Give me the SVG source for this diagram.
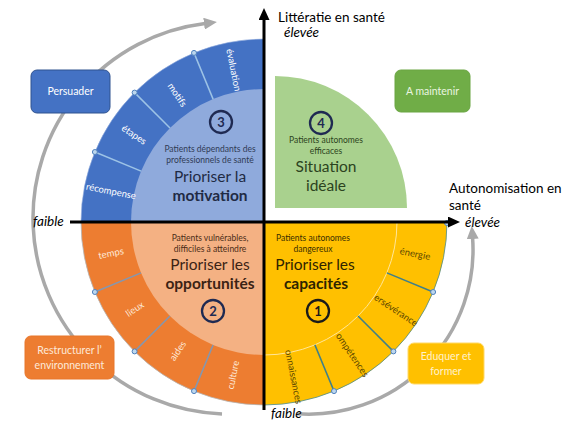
<svg xmlns="http://www.w3.org/2000/svg" width="564" height="423" viewBox="0 0 564 423">
<style>
text{font-family:Lato,"Open Sans","Liberation Sans",sans-serif}
.arc{fill:none;stroke:#a9a9a9;stroke-width:3.5}
.axis{stroke:#000;stroke-width:3;fill:none}
.rt{font-size:9.5px;text-anchor:middle}
.wb{fill:#fff}
.wo{fill:#fde9d9}
.dy{fill:#5c4700}
.sub{font-size:8.5px;text-anchor:middle}
.big{font-size:15.5px;text-anchor:middle}
.bold{font-weight:700}
.num{font-size:13px;text-anchor:middle;font-weight:700}
.nc{fill:none;stroke-width:2.3}
.dot{fill:#bdd7ee;stroke:#4f81bd;stroke-width:1}
.box{stroke-width:1}
.bt{font-size:10.5px;text-anchor:middle}
.lab{font-size:13.5px;fill:#000}
.it{font-style:italic}
</style>
<defs>
<marker id="ga" markerUnits="userSpaceOnUse" markerWidth="13" markerHeight="12" refX="1" refY="6" orient="auto"><path d="M0,0 L13,6 L0,12 z" fill="#a9a9a9"/></marker>
<marker id="ba" markerUnits="userSpaceOnUse" markerWidth="12" markerHeight="11" refX="0" refY="5.5" orient="auto"><path d="M0,0 L12,5.5 L0,11 z" fill="#000"/></marker>
</defs>

<g id="connectors">
<path id="arc-left" class="arc" d="M222,413.9 A196,196 0 0 1 205,23.5" marker-end="url(#ga)"/>
<path id="arc-right" class="arc" d="M297,413.8 A164.4,164.4 0 0 0 472.6,238" marker-end="url(#ga)"/>
</g>

<g id="q-motivation">
<path d="M264,222 L81,222 A183,183 0 0 1 264,39 Z" fill="#4472c4" stroke="#8faadc" stroke-width="0.6"/>
<path d="M264,222 L131,222 A133,133 0 0 1 264,89 Z" fill="#8faadc"/>
<g stroke="#9dc3e6" stroke-width="1.5">
<line x1="213.1" y1="99.1" x2="194" y2="52.9"/>
<line x1="170" y1="128" x2="134.6" y2="92.6"/>
<line x1="141.1" y1="171.1" x2="94.9" y2="152"/>
</g>
<circle class="dot" cx="194" cy="52.9" r="2.5"/>
<circle class="dot" cx="134.6" cy="92.6" r="2.5"/>
<circle class="dot" cx="94.9" cy="152" r="2.5"/>
<text class="rt wb" transform="translate(233.4,70) rotate(78.75)" dy="3">évaluation</text>
<text class="rt wb" transform="translate(177,95) rotate(56.25)" dy="3">motifs</text>
<text class="rt wb" transform="translate(134,135) rotate(33.75)" dy="3">étapes</text>
<text class="rt wb" transform="translate(111,191.4) rotate(11.25)" dy="3">récompense</text>
<circle class="nc" cx="221" cy="122" r="11" stroke="#1f2a52"/>
<text class="num" x="221" y="126.5" fill="#1f2a52">3</text>
<text class="sub" x="210" y="152" fill="#2f3b55">Patients dépendants des</text>
<text class="sub" x="210" y="163" fill="#2f3b55">professionnels de santé</text>
<text class="big" x="210" y="182" fill="#1f2a44">Prioriser la</text>
<text class="big bold" x="210" y="201" fill="#1f2a44">motivation</text>
</g>

<g id="q-opportunites">
<path d="M264,222 L81,222 A183,183 0 0 0 264,405 Z" fill="#ed7d31" stroke="#b4b4b4" stroke-width="0.8"/>
<path d="M264,222 L131,222 A133,133 0 0 0 264,355 Z" fill="#f4b183"/>
<g stroke="#8497b0" stroke-width="1.5">
<line x1="213.1" y1="344.9" x2="194" y2="391.1"/>
<line x1="170" y1="316" x2="134.6" y2="351.4"/>
<line x1="141.1" y1="272.9" x2="94.9" y2="292"/>
</g>
<circle class="dot" cx="194" cy="391.1" r="2.5"/>
<circle class="dot" cx="134.6" cy="351.4" r="2.5"/>
<circle class="dot" cx="94.9" cy="292" r="2.5"/>
<text class="rt wo" transform="translate(111,253.5) rotate(-11.25)" dy="3">temps</text>
<text class="rt wo" transform="translate(135,309.2) rotate(-33.75)" dy="3">lieux</text>
<text class="rt wo" transform="translate(178,351) rotate(-56.25)" dy="3">aides</text>
<text class="rt wo" transform="translate(233.4,375) rotate(-78.75)" dy="3">culture</text>
<text class="sub" x="210" y="241" fill="#4a2c17">Patients vulnérables,</text>
<text class="sub" x="210" y="252" fill="#4a2c17">difficiles à atteindre</text>
<text class="big" x="210" y="270" fill="#3b2314">Prioriser les</text>
<text class="big bold" x="210" y="289" fill="#3b2314">opportunités</text>
<circle class="nc" cx="213" cy="311" r="11" stroke="#1f2a52"/>
<text class="num" x="213" y="315.5" fill="#1f2a52">2</text>
</g>

<g id="q-capacites">
<path d="M264,222 L447,222 A183,183 0 0 1 264,405 Z" fill="#ffc000" stroke="#4a8a8a" stroke-width="0.8"/>
<path d="M397,222 A133,133 0 0 1 264,355" fill="none" stroke="#ffe699" stroke-width="1"/>
<g stroke="#3f7f8a" stroke-width="1.5">
<line x1="314.9" y1="344.9" x2="334" y2="391.1"/>
<line x1="358" y1="316" x2="393.4" y2="351.4"/>
<line x1="386.9" y1="272.9" x2="433.1" y2="292"/>
</g>
<circle class="dot" cx="334" cy="391.1" r="2.5"/>
<circle class="dot" cx="393.4" cy="351.4" r="2.5"/>
<circle class="dot" cx="433.1" cy="292" r="2.5"/>
<circle class="dot" cx="447" cy="223" r="2.5"/>
<text class="rt dy" transform="translate(415,254) rotate(11.25)" dy="3">énergie</text>
<text class="dy" font-size="9.5" transform="translate(375,296.5) rotate(33.75)" dy="3">ersévérance</text>
<text class="dy" font-size="9.5" transform="translate(338,334) rotate(56.25)" dy="3">ompétences</text>
<text class="dy" font-size="9.5" transform="translate(288,350) rotate(78.75)" dy="3">onnaissances</text>
<text class="sub" x="313" y="241" fill="#3a2e00">Patients autonomes</text>
<text class="sub" x="313" y="252" fill="#3a2e00">dangereux</text>
<text class="big" x="315" y="270" fill="#2e2400">Prioriser les</text>
<text class="big bold" x="316" y="289" fill="#2e2400">capacités</text>
<circle class="nc" cx="318" cy="311" r="11" stroke="#1a1a1a"/>
<text class="num" x="318" y="315.5" fill="#1a1a1a">1</text>
</g>

<g id="q-ideale">
<path d="M275,208 L275,76 A132,132 0 0 1 407,208 Z" fill="#a9d18e"/>
<circle class="nc" cx="321" cy="123" r="11" stroke="#1f2a52"/>
<text class="num" x="321" y="127.5" fill="#1f2a52">4</text>
<text class="sub" x="326" y="143" fill="#2c4320">Patients autonomes</text>
<text class="sub" x="326" y="154" fill="#2c4320">efficaces</text>
<text class="big" x="326" y="172" fill="#2c4320">Situation</text>
<text class="big" x="326" y="191" fill="#2c4320">idéale</text>
</g>

<g id="box-persuader">
<rect class="box" x="31" y="70" width="79" height="43" rx="6" fill="#4472c4" stroke="#2f528f"/>
<text class="bt" x="70.5" y="95" fill="#fff">Persuader</text>
</g>
<g id="box-maintenir">
<rect class="box" x="395" y="70" width="75" height="42" rx="6" fill="#70ad47" stroke="#6aa542"/>
<text class="bt" x="432.5" y="95" fill="#eaf5e0">A maintenir</text>
</g>
<g id="box-restructurer">
<rect class="box" x="25" y="336" width="89" height="43" rx="6" fill="#ed7d31" stroke="#e8762a"/>
<text class="bt" x="69.5" y="354" fill="#fde9d9">Restructurer l’</text>
<text class="bt" x="69.5" y="369" fill="#fde9d9">environnement</text>
</g>
<g id="box-eduquer">
<rect class="box" x="408" y="343" width="76" height="41" rx="6" fill="#ffc000" stroke="#ffd966"/>
<text class="bt" x="446" y="360" fill="#fff2cc">Eduquer et</text>
<text class="bt" x="446" y="375" fill="#fff2cc">former</text>
</g>

<g id="axes">
<line class="axis" x1="70" y1="222" x2="448" y2="222" marker-end="url(#ba)"/>
<line class="axis" x1="264" y1="410" x2="264" y2="20" marker-end="url(#ba)"/>
<text class="lab" x="278" y="22">Littératie en santé</text>
<text class="lab it" x="284" y="37">élevée</text>
<text class="lab" x="449" y="193">Autonomisation en</text>
<text class="lab" x="449" y="210">santé</text>
<text class="lab it" x="465" y="227">élevée</text>
<text class="lab it" x="33" y="226">faible</text>
<text class="lab it" x="271" y="418">faible</text>
</g>
</svg>
